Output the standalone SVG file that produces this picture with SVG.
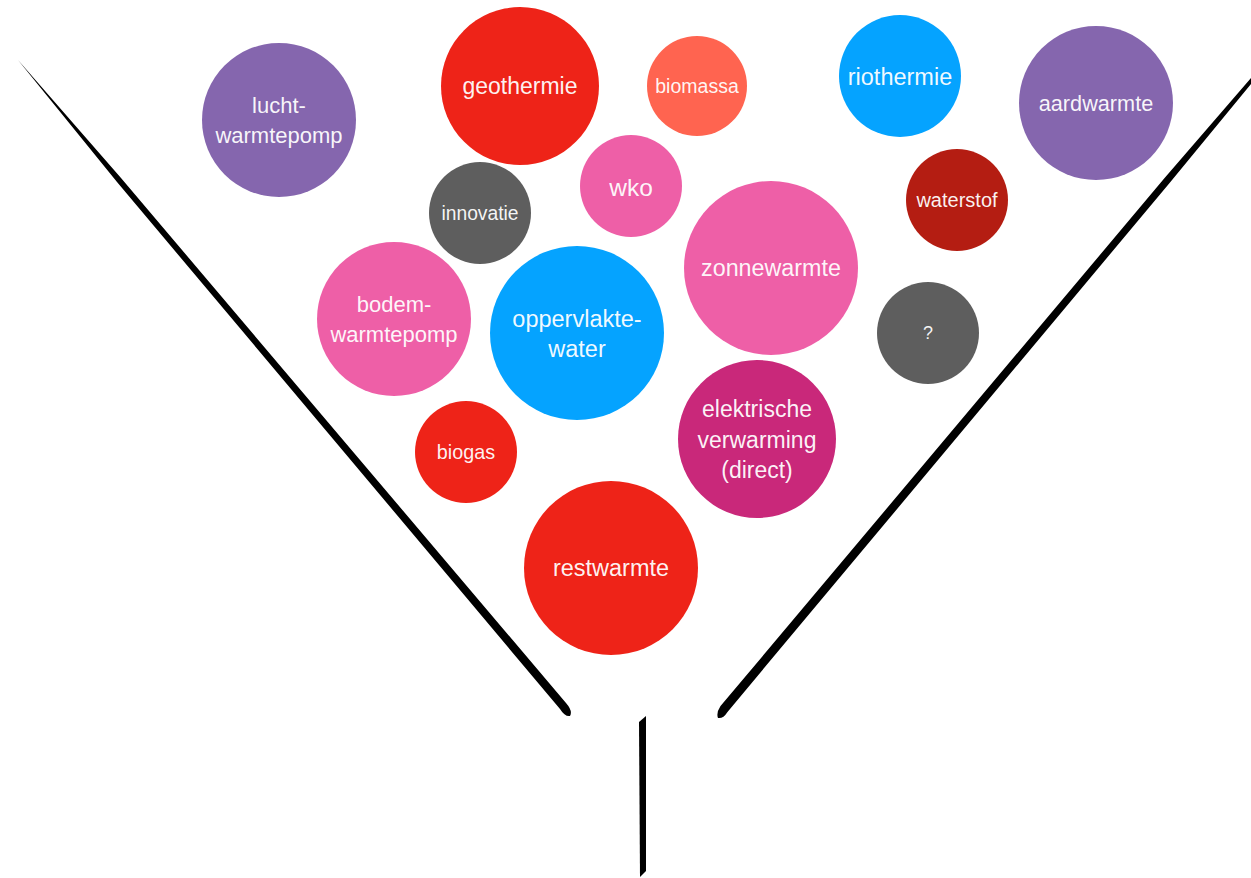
<svg xmlns="http://www.w3.org/2000/svg" width="1251" height="878" viewBox="0 0 1251 878">
<style>
text{font-family:"Liberation Sans",Arial,sans-serif;fill:#fff;fill-opacity:0.95;text-anchor:middle;dominant-baseline:central}
.purple{fill:#8566AE}.red{fill:#EE2318}.salmon{fill:#FF6450}.blue{fill:#05A3FF}.gray{fill:#5E5E5E}.pink{fill:#EE5FA7}.dred{fill:#B41D12}.mag{fill:#C9287A}
.funnel{fill:#000}
</style>
<rect width="1251" height="878" fill="#fff"/>
<g id="funnel">
<path class="funnel" d="M18,60 L121,178 L566,703 Q573,711 570,716 Q565,717 560,709 L117,182 Z"/>
<path class="funnel" d="M1251,78 L1164.8,177.8 L720.5,706.1 Q716,713 718,718 Q723,719 727.5,711.9 L1170.2,182.2 L1251,84 Z"/>
<path class="funnel" d="M639,722 L646,716 L646,871 L640,877 Z"/>
</g>
<g id="lucht"><circle class="purple" cx="279" cy="120" r="77"/><text x="279" y="105" font-size="22">lucht-</text><text x="279" y="135" font-size="22">warmtepomp</text></g>
<g id="geothermie"><circle class="red" cx="520" cy="86" r="79"/><text x="520" y="86" font-size="23">geothermie</text></g>
<g id="biomassa"><circle class="salmon" cx="697" cy="86" r="50"/><text x="697" y="86" font-size="19.5">biomassa</text></g>
<g id="riothermie"><circle class="blue" cx="900" cy="76" r="61"/><text x="900" y="77" font-size="23.5">riothermie</text></g>
<g id="aardwarmte"><circle class="purple" cx="1096" cy="103" r="77"/><text x="1096" y="103" font-size="21.7">aardwarmte</text></g>
<g id="innovatie"><circle class="gray" cx="480" cy="213" r="51"/><text x="480" y="213" font-size="19.3">innovatie</text></g>
<g id="wko"><circle class="pink" cx="631" cy="186" r="51"/><text x="631" y="187" font-size="24.5">wko</text></g>
<g id="waterstof"><circle class="dred" cx="957" cy="200" r="51"/><text x="957" y="200" font-size="20">waterstof</text></g>
<g id="zonnewarmte"><circle class="pink" cx="771" cy="268" r="87"/><text x="771" y="268" font-size="23.3">zonnewarmte</text></g>
<g id="vraag"><circle class="gray" cx="928" cy="333" r="51"/><text x="928" y="333" font-size="18">?</text></g>
<g id="bodem"><circle class="pink" cx="394" cy="319" r="77"/><text x="394" y="304" font-size="22">bodem-</text><text x="394" y="334" font-size="22">warmtepomp</text></g>
<g id="oppervlaktewater"><circle class="blue" cx="577" cy="333" r="87"/><text x="577" y="319" font-size="23.5">oppervlakte-</text><text x="577" y="349" font-size="23.5">water</text></g>
<g id="elektrisch"><circle class="mag" cx="757" cy="439" r="79"/><text x="757" y="409" font-size="23">elektrische</text><text x="757" y="440" font-size="23">verwarming</text><text x="757" y="470" font-size="23">(direct)</text></g>
<g id="biogas"><circle class="red" cx="466" cy="452" r="51"/><text x="466" y="452" font-size="19.8">biogas</text></g>
<g id="restwarmte"><circle class="red" cx="611" cy="568" r="87"/><text x="611" y="568" font-size="23.5">restwarmte</text></g>
<g id="connectors"/>
</svg>
